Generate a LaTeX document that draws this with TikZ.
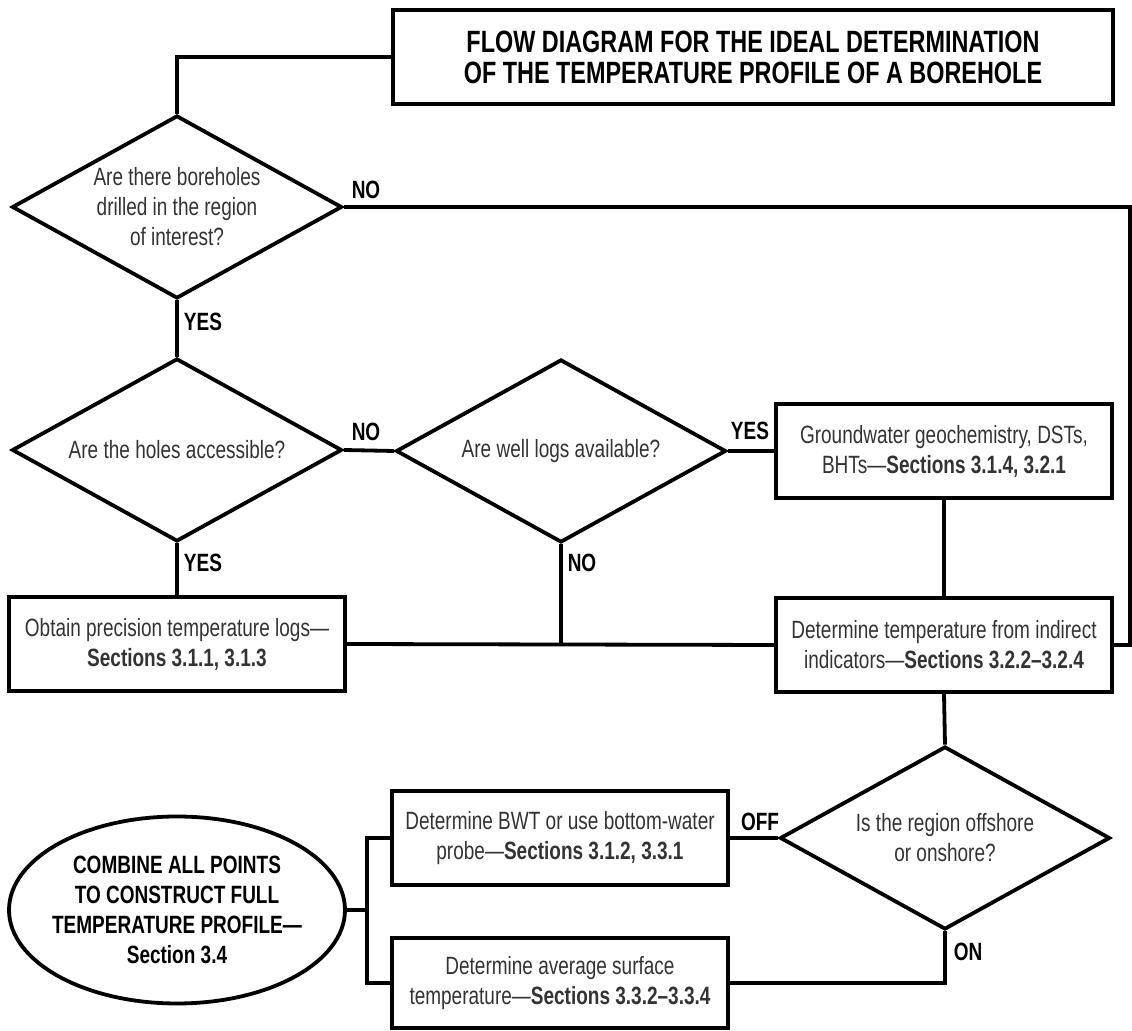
\documentclass[tikz,border=0pt]{standalone}
\usepackage{fontspec}
\setmainfont{Liberation Sans}[FakeStretch=0.76]
\usetikzlibrary{positioning,shapes.geometric}

\begin{document}
\begin{tikzpicture} [
        x=0.5pt, y=-0.5pt,
        every node/.style={
            font=\fontsize{12.5}{15}\selectfont,
            text=black!80,
            align=center,
            inner sep=0pt
        },
        box/.style={
            rectangle,
            draw,
            line width=1.9pt,
            minimum width=168pt,
            minimum height=47pt
        },
        query/.style={
            diamond,
            draw,
            line width=1.9pt,
            aspect=1.8,
            minimum width=165pt,
            minimum height=91.5pt
        },
        answer/.style={
            font=\fontsize{12.5}{15}\selectfont\bfseries,
            text=black
        },
        link/.style={line width=1.9pt}
    ]

        \useasboundingbox (0,0) rectangle (1132,1031);

        \node[box, minimum width=360pt, text=black, font=\fontsize{15.4}{15.5}\selectfont\bfseries] (title) at (753,57)
            {FLOW DIAGRAM FOR THE IDEAL DETERMINATION\\OF THE TEMPERATURE PROFILE OF A BOREHOLE};

        \node[query]    (bores)     at (177,207)    {Are there boreholes\\drilled in the region\\of interest?};
        \node[query]    (access)    at (177,450)    {Are the holes accessible?};
        \node[query]    (welllogs)  at (561,451)    {Are well logs available?};
        \node[box]      (groundw)   at (944,451)    {Groundwater geochemistry, DSTs,\\BHTs—\textbf{Sections 3.1.4, 3.2.1}};
        \node[box]      (precise)   at (177,644)    {Obtain precision temperature logs—\\\textbf{Sections 3.1.1, 3.1.3}};
        \node[box]      (indirect)  at (944,645)    {Determine temperature from indirect\\indicators—\textbf{Sections 3.2.2–3.2.4}};
        \node[query]    (offshore)  at (945,838)    {Is the region offshore\\or onshore?};
        \node[box]      (bwt)       at (560,838)    {Determine BWT or use bottom-water\\probe—\textbf{Sections 3.1.2, 3.3.1}};
        \node[box, minimum height=45pt] (surface) at (560,983) {Determine average surface\\temperature—\textbf{Sections 3.3.2–3.3.4}};
        \node[ellipse, draw, line width=1.9pt, inner xsep=-4pt, minimum width=168pt, minimum height=93.5pt,
              text=black, font=\fontsize{12.5}{15}\selectfont\bfseries] (combine) at (177,910)
            {COMBINE ALL POINTS\\TO CONSTRUCT FULL\\TEMPERATURE PROFILE—\\Section 3.4};

        % yes / no labels
        \node[answer] (no1)  at (366,190) {NO};
        \node[answer] (yes1) at (203,322) {YES};
        \node[answer] (no2)  at (366,432) {NO};
        \node[answer] (yes2) at (750,431) {YES};
        \node[answer] (yes3) at (203,563) {YES};
        \node[answer] (no3)  at (582,563) {NO};
        \node[answer] (off)  at (760,822) {OFF};
        \node[answer] (on)   at (968,952) {ON};

        \coordinate (redge) at (1130,645);
        \coordinate (fork)  at (367,910);

        \draw[link] (title.west) -| (bores.north);
        \draw[link] (bores.east) -| (redge) -- (indirect.east);
        \draw[link] (bores.south) -- (access.north);
        \draw[link] (access.east) -- (welllogs.west);
        \draw[link] (welllogs.east) -- (groundw.west);
        \draw[link] (access.south) -- (precise.north);
        \draw[link] (precise.east) -- (indirect.west);
        \draw[link] (welllogs.south) -- (welllogs.south |- precise.east);
        \draw[link] (groundw.south) -- (indirect.north);
        \draw[link] (indirect.south) -- (offshore.north);
        \draw[link] (offshore.west) -- (bwt.east);
        \draw[link] (offshore.south) |- (surface.east);
        \draw[link] (combine.east) -- (fork);
        \draw[link] (bwt.west) -| (fork) |- (surface.west);

    \end{tikzpicture}
\end{document}
